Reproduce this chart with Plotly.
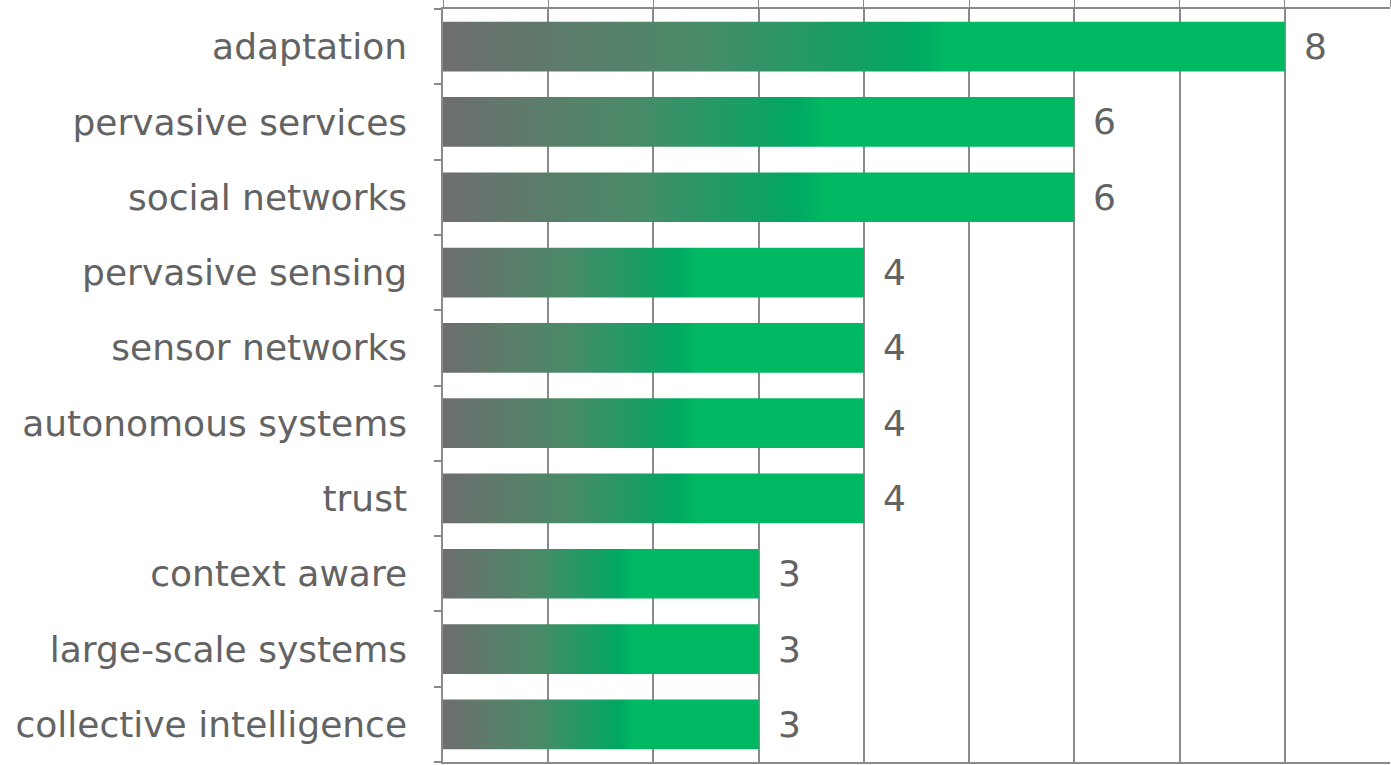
import plotly.graph_objects as go

categories = ["adaptation", "pervasive services", "social networks", "pervasive sensing",
              "sensor networks", "autonomous systems", "trust", "context aware",
              "large-scale systems", "collective intelligence"]
values = [8, 6, 6, 4, 4, 4, 4, 3, 3, 3]

GRID = "#8a8a8a"
TEXT = "#636363"
FONT = "DejaVu Sans"
FS = 36
BAR_W = 0.66
gradient = [[0.0, "#6e6e6e"], [0.3, "#4a8a68"], [0.56, "#00a862"], [0.6, "#00b862"], [1.0, "#00b862"]]

n = len(categories)
fig = go.Figure()
for i, (c, v) in enumerate(zip(categories, values)):
    y = n - 1 - i
    h = BAR_W / 2
    fig.add_trace(go.Scatter(
        x=[0, v, v, 0, 0], y=[y - h, y - h, y + h, y + h, y - h],
        mode="lines", line=dict(width=0), fill="toself",
        fillgradient=dict(type="horizontal", colorscale=gradient, start=0, stop=v),
        hoverinfo="skip", showlegend=False, name=c))
    fig.add_annotation(x=v, y=y, text=str(v), showarrow=False, xanchor="left",
                       xshift=17, font=dict(size=FS, color=TEXT, family=FONT))

fig.update_layout(
    width=1391, height=765, plot_bgcolor="white", paper_bgcolor="white",
    margin=dict(l=443, r=1, t=8, b=2),
    font=dict(family=FONT, size=FS, color=TEXT),
    xaxis=dict(range=[0, 9], side="top", showgrid=True, gridcolor=GRID, gridwidth=1.5,
               showline=True, linecolor=GRID, linewidth=1.5, mirror=True,
               ticks="outside", ticklen=8, tickcolor=GRID, showticklabels=False,
               dtick=1, zeroline=False, fixedrange=True),
    yaxis=dict(range=[-0.5, n - 0.5], tickmode="array",
               tickvals=[n - 1 - i for i in range(n)], ticktext=categories,
               ticks="", showgrid=False, zeroline=False,
               showline=True, linecolor=GRID, linewidth=1.5,
               ticklabelstandoff=27,
               minor=dict(tickmode="array", tickvals=[k - 0.5 for k in range(n + 1)],
                          ticks="outside", ticklen=7, tickcolor=GRID, tickwidth=1.5, showgrid=False),
               tickfont=dict(size=FS, color=TEXT, family=FONT), fixedrange=True),
)
fig.write_html("out.html")
